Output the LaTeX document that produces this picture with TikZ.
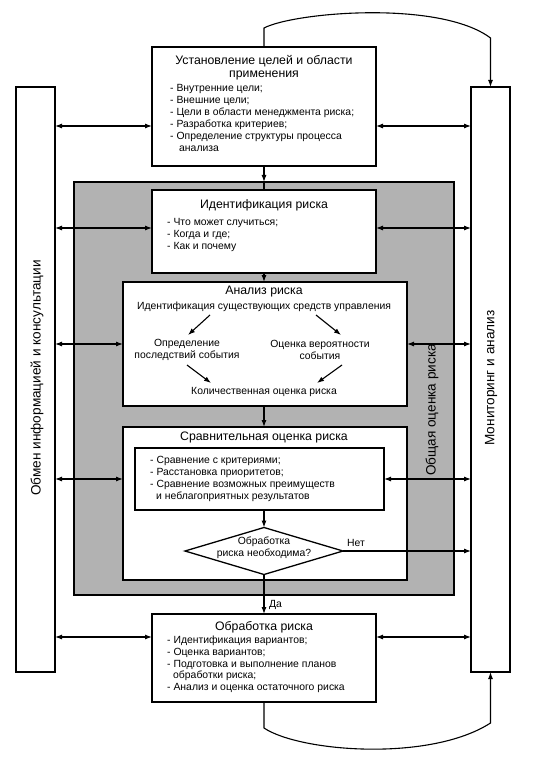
\documentclass[tikz,border=0pt]{standalone}
\usepackage{fontspec}
\setmainfont{Liberation Sans}
\usetikzlibrary{shapes.geometric,arrows.meta}
\definecolor{shade}{RGB}{178,178,178}
\tikzset{
  box/.style={draw=black, line width=1.3pt, fill=white, inner sep=0pt, outer sep=0pt},
  ttl/.style={font=\fontsize{12.3}{13.3}\selectfont, align=center, inner sep=0pt},
  lst/.style={font=\fontsize{10.4}{11.9}\selectfont, align=left, inner sep=0pt, anchor=north west},
  txt/.style={font=\fontsize{10.4}{12}\selectfont, align=center, inner sep=0pt},
  side/.style={font=\fontsize{13.6}{15}\selectfont, rotate=90, inner sep=0pt},
  arr/.style={line width=1.1pt, -{Latex[length=7pt,width=5pt]}},
  darr/.style={line width=1.1pt, {Latex[length=7pt,width=5pt]}-{Latex[length=7pt,width=5pt]}},
  ln/.style={line width=1.1pt}
}
\begin{document}
\begin{tikzpicture}[x=1pt,y=-1pt]
\useasboundingbox (0,0) rectangle (557,767);
% columns
\node[box, minimum width=39pt, minimum height=585pt] (leftcol) at (35.5,379.5) {};
\node[box, minimum width=39pt, minimum height=585pt] (rightcol) at (490.5,379.5) {};
\node[side] (leftlbl) at (37,378) {Обмен информацией и консультации};
\node[side] (rightlbl) at (491,378) {Мониторинг и анализ};
% gray area
\node[box, fill=shade, minimum width=380pt, minimum height=413pt] (gray) at (264,388.5) {};
\node[side] (graylbl) at (432,410) {Общая оценка риска};
% goal box
\node[box, minimum width=224pt, minimum height=119pt] (goal) at (264,106.5) {};
\node[ttl] (goalt) at (264,67.5) {Установление целей и области\\применения};
\node[lst] (goall) at (170,84.5) {- Внутренние цели;\\- Внешние цели;\\- Цели в области менеджмента риска;\\- Разработка критериев;\\- Определение структуры процесса\\\hspace*{9pt}анализа};
% identification
\node[box, minimum width=224pt, minimum height=83pt] (ident) at (264,231.5) {};
\node[ttl] (identt) at (264,205) {Идентификация риска};
\node[lst] (identl) at (167,218.5) {- Что может случиться;\\- Когда и где;\\- Как и почему};
% analysis
\node[box, minimum width=284pt, minimum height=124pt] (anal) at (265,344) {};
\node[ttl] (analt) at (264,292) {Анализ риска};
\node[txt] (ctrl) at (264,307) {Идентификация существующих средств управления};
\node[txt] (cons) at (187,350) {Определение\\последствий события};
\node[txt] (prob) at (320,350) {Оценка вероятности\\события};
\node[txt] (quant) at (264,392) {Количественная оценка риска};
\coordinate (a1s) at (210,315); \coordinate (a1e) at (188,335);
\coordinate (a2s) at (316,315); \coordinate (a2e) at (341,335);
\coordinate (a3s) at (187,365); \coordinate (a3e) at (211,383);
\coordinate (a4s) at (342,365); \coordinate (a4e) at (317,383);
\draw[arr] (a1s) -- (a1e);
\draw[arr] (a2s) -- (a2e);
\draw[arr] (a3s) -- (a3e);
\draw[arr] (a4s) -- (a4e);
% comparative
\node[box, minimum width=284pt, minimum height=153pt] (comp) at (265,503.5) {};
\node[ttl] (compt) at (264,437) {Сравнительная оценка риска};
\node[box, minimum width=249pt, minimum height=62pt] (inner) at (259.5,479) {};
\node[lst] (innerl) at (150,456.5) {- Сравнение с критериями;\\- Расстановка приоритетов;\\- Сравнение возможных преимуществ\\\hspace*{6pt}и неблагоприятных результатов};
\node[box, shape=diamond, minimum width=158pt, minimum height=47pt] (dec) at (264,551) {};
\node[txt] (dect) at (264,548) {Обработка\\риска необходима?};
% treatment
\node[box, minimum width=224pt, minimum height=88pt] (treat) at (264,658) {};
\node[ttl] (treatt) at (264,627) {Обработка риска};
\node[lst] (treatl) at (167,635.5) {- Идентификация вариантов;\\- Оценка вариантов;\\- Подготовка и выполнение планов\\\hspace*{6pt}обработки риска;\\- Анализ и оценка остаточного риска};
% vertical flow
\draw[arr] (goal.south) -- (goal.south |- gray.north);
\draw[ln] (goal.south |- gray.north) -- (ident.north);
\draw[arr] (ident.south) -- (ident.south |- anal.north);
\draw[arr] (ident.south |- anal.south) -- (ident.south |- comp.north);
\draw[arr] (inner.south -| dec.north) -- (dec.north);
\draw[arr] (dec.south) -- (treat.north);
\node[txt, anchor=west] (yes) at (269,605) {Да};
\draw[arr] (dec.east) -- (dec.east -| rightcol.west);
\node[txt] (no) at (356,543) {Нет};
% horizontal double arrows
\coordinate (r1) at (0,126);
\coordinate (r2) at (0,228);
\coordinate (r3) at (0,344);
\coordinate (r4) at (0,479);
\coordinate (r5) at (0,637);
\draw[darr] (leftcol.east |- r1) -- (goal.west |- r1);
\draw[darr] (goal.east |- r1) -- (rightcol.west |- r1);
\draw[darr] (leftcol.east |- r2) -- (ident.west |- r2);
\draw[darr] (ident.east |- r2) -- (rightcol.west |- r2);
\draw[darr] (leftcol.east |- r3) -- (anal.west |- r3);
\draw[darr] (anal.east |- r3) -- (rightcol.west |- r3);
\draw[darr] (leftcol.east |- r4) -- (comp.west |- r4);
\draw[darr] (inner.east |- r4) -- (rightcol.west |- r4);
\draw[darr] (leftcol.east |- r5) -- (treat.west |- r5);
\draw[darr] (treat.east |- r5) -- (rightcol.west |- r5);
% loops
\draw[arr] (goal.north) -- (264,28) .. controls (295,12) and (440,0) .. (490.5,38) -- (rightcol.north);
\draw[arr] (treat.south) -- (264,728) .. controls (300,752) and (430,762) .. (490.5,723) -- (rightcol.south);
\end{tikzpicture}
\end{document}
